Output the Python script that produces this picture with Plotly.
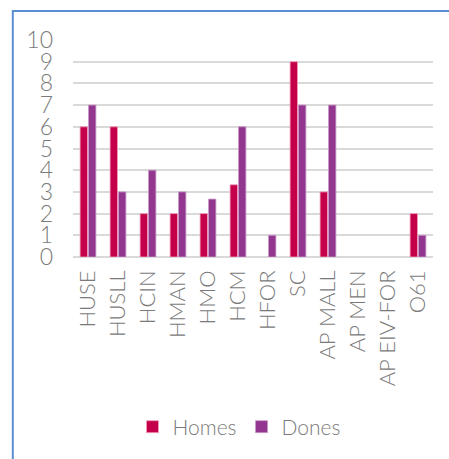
import plotly.graph_objects as go

categories = ["HUSE", "HUSLL", "HCIN", "HMAN", "HMO", "HCM", "HFOR", "SC",
              "AP MALL", "AP MEN", "AP EIV-FOR", "O61"]
homes = [6, 6, 2, 2, 2, 3.33, 0, 9, 3, 0, 0, 2]
dones = [7, 3, 4, 3, 2.67, 6, 1, 7, 7, 0, 0, 1]
y_ticks = list(range(0, 11))

FONT = "Lato"
TXT = "#7a7a7a"

def edge(vals):
    return [0 if v == 0 else 0.8 for v in vals]

fig = go.Figure()
fig.add_trace(go.Bar(name="Homes", x=categories, y=homes,
                     marker=dict(color="#C5004A",
                                 line=dict(color="#f2a0bd", width=edge(homes)))))
fig.add_trace(go.Bar(name="Dones", x=categories, y=dones,
                     marker=dict(color="#93368F",
                                 line=dict(color="#c99bc7", width=edge(dones)))))

W, H = 449, 459
l, r, t, b = 73, 16, 40, 202
pw = W - l - r
ph = H - t - b

def px_to_paper_x(px):
    return (px - l) / pw

def px_to_paper_y(py):
    return (H - b - py) / ph

fig.update_layout(
    width=W, height=H,
    margin=dict(l=l, r=r, t=t, b=b),
    paper_bgcolor="white", plot_bgcolor="white",
    barmode="group", bargap=0.44, bargroupgap=0.12,
    font=dict(family=FONT, color=TXT, size=21, weight=300),
    showlegend=True,
    legend=dict(orientation="h", x=px_to_paper_x(239), xanchor="center",
                y=px_to_paper_y(427), yanchor="middle",
                font=dict(size=21, color=TXT, family=FONT),
                itemwidth=30, traceorder="normal"),
    xaxis=dict(tickangle=-90, showgrid=False, showline=False, ticks="",
               tickfont=dict(size=22, color=TXT, family=FONT),
               ticklabelstandoff=8),
    yaxis=dict(range=[0, 10], tickvals=y_ticks, ticktext=[str(v) for v in y_ticks],
               showgrid=True, gridcolor="#d9d9d9", gridwidth=2,
               zeroline=True, zerolinecolor="#d9d9d9", zerolinewidth=2,
               showline=False, ticks="",
               tickfont=dict(size=23, color=TXT, family=FONT),
               ticklabelstandoff=19),
    shapes=[
        dict(type="line", xref="paper", yref="paper",
             x0=px_to_paper_x(12.8), x1=px_to_paper_x(12.8),
             y0=px_to_paper_y(10), y1=px_to_paper_y(470),
             line=dict(color="#5B8FD3", width=2)),
        dict(type="line", xref="paper", yref="paper",
             x0=px_to_paper_x(12), x1=px_to_paper_x(460),
             y0=px_to_paper_y(11), y1=px_to_paper_y(11),
             line=dict(color="#5B8FD3", width=2)),
    ],
)

fig.write_html("out.html")
